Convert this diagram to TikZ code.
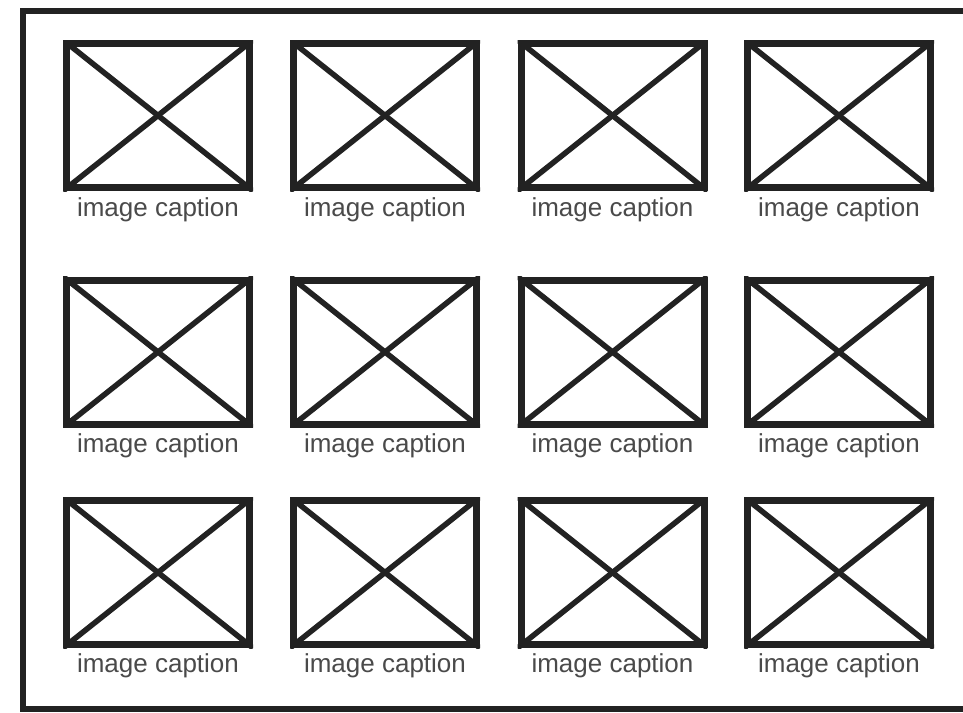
\documentclass[tikz,border=0pt]{standalone}
\usepackage{fontspec}
\setmainfont{Liberation Sans}
\definecolor{ink}{HTML}{222222}
\definecolor{captext}{HTML}{4A4A4A}
\tikzset{
  imgbox/.style={draw=ink, line width=7pt, minimum width=183pt, minimum height=144pt, inner sep=0pt, shape=rectangle},
  cross/.style={draw=ink, line width=5.5pt},
  caption/.style={anchor=base, inner sep=0pt, text=captext, font=\fontsize{26}{30}\selectfont},
  frame/.style={draw=ink, line width=5.5pt}
}
\begin{document}
\begin{tikzpicture}[x=1pt, y=-1pt]
\useasboundingbox (0,0) rectangle (963,712);
\fill[white] (0,0) rectangle (963,712);
\draw[frame] (980,11) -- (23,11) -- (23,709) -- (980,709);
\foreach \c/\x in {1/158, 2/385, 3/612.5, 4/839}{
  \foreach \r/\y/\b in {1/115.5/216, 2/352/452, 3/572.5/672}{
    \node[imgbox] (b\r\c) at (\x,\y) {};
    \begin{scope}
      \clip (b\r\c.north west) rectangle (b\r\c.south east);
      \draw[cross] (b\r\c.north west) -- (b\r\c.south east);
      \draw[cross] (b\r\c.north east) -- (b\r\c.south west);
    \end{scope}
    \node[caption] (c\r\c) at (\x,\b) {image caption};
  }
}
\end{tikzpicture}
\end{document}
